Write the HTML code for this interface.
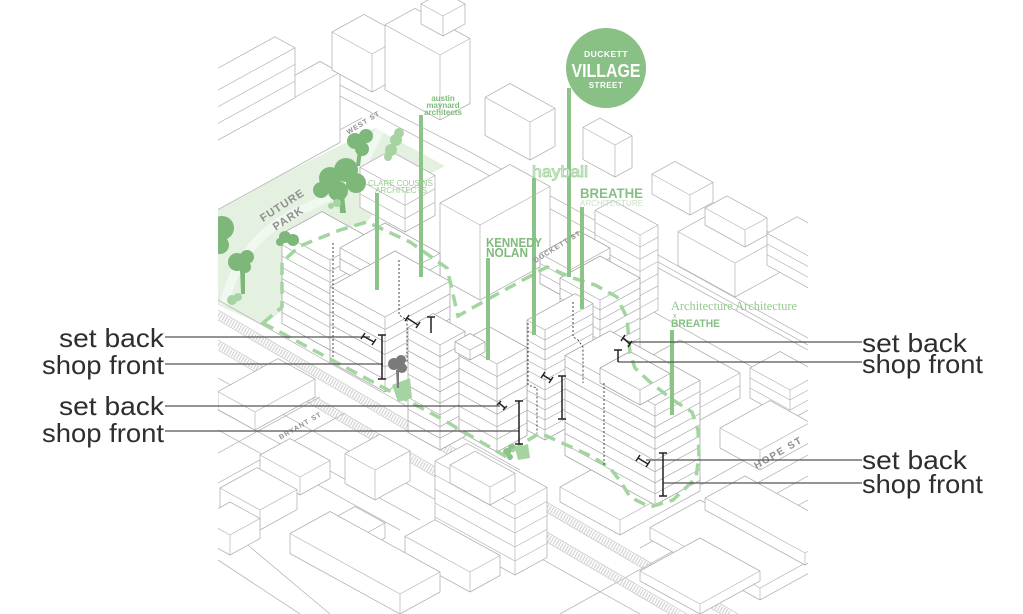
<!DOCTYPE html>
<html><head><meta charset="utf-8">
<style>
html,body{margin:0;padding:0;background:#fff;width:1023px;height:614px;overflow:hidden;}
svg{display:block;}
</style></head>
<body>
<svg id="s" width="1023" height="614" viewBox="0 0 1023 614" xmlns="http://www.w3.org/2000/svg">
<defs><clipPath id="cp"><rect x="218" y="0" width="590" height="614"/></clipPath></defs>
<rect width="1023" height="614" fill="#fff"/>
<g clip-path="url(#cp)">
  <path d="M218,207 L375,128 L445,166 L385,198 L367,222 L300,246 L283,262 L283,310 L263,325 L218,305 Z" fill="#e4f1e1"/>
  <path d="M224,305 C234,262 258,228 308,207 S362,165 380,130" fill="none" stroke="#f1f8ef" stroke-width="9"/>
  <g id="ground" fill="none" stroke="#b0b0b0" stroke-width="0.8"></g>
  <g fill="none">
    <path d="M218,315 L729,614" stroke="#d4d4d4" stroke-width="7" stroke-dasharray="1.2 1.6"/>
    <path d="M218,345 L678,614" stroke="#d4d4d4" stroke-width="7" stroke-dasharray="1.2 1.6"/>
    <path d="M218,310 L738,614 M218,320 L721,614 M218,340 L687,614 M218,350 L670,614" stroke="#c2c2c2" stroke-width="0.7"/>
  </g>
  <g id="bld"></g>
  <g fill="#7db77a">
    <circle cx="330" cy="178" r="11"/><circle cx="346" cy="170" r="12"/><circle cx="356" cy="183" r="10"/><circle cx="338" cy="191" r="10"/><circle cx="321" cy="190" r="8"/>
    <path d="M339,195 L344,195 L346,213 L340,213 Z"/>
    <circle cx="355" cy="141" r="8"/><circle cx="366" cy="136" r="7"/><circle cx="362" cy="149" r="7"/>
    <path d="M358,150 L362,150 L360,166 L356,166 Z"/>
    <circle cx="222" cy="228" r="12"/><circle cx="220" cy="245" r="9"/>
    <circle cx="237" cy="262" r="9"/><circle cx="247" cy="257" r="7"/><circle cx="245" cy="267" r="6"/>
    <path d="M240,268 L245,268 L245,294 L241,294 Z"/>
    <circle cx="285" cy="237" r="6"/><circle cx="293" cy="240" r="6"/><circle cx="280" cy="242" r="4"/>
  </g>
  <g fill="#a6d3a2">
    <circle cx="396" cy="140" r="6"/><circle cx="391" cy="150" r="6"/><circle cx="399" cy="133" r="5"/><circle cx="388" cy="157" r="4"/>
    <circle cx="232" cy="300" r="5"/><circle cx="238" cy="297" r="4"/>
    <circle cx="337" cy="203" r="4"/><circle cx="331" cy="206" r="3"/>
    <path d="M392,385 L410,378 L412,398 L398,402 Z"/>
    <path d="M515,448 L528,444 L530,458 L518,460 Z"/>
  </g>
  <g fill="#7a7a7a">
    <circle cx="394" cy="364" r="6"/><circle cx="401" cy="360" r="5"/><circle cx="402" cy="368" r="5"/>
    <path d="M396,370 L399,370 L399,388 L397,388 Z"/>
  </g>
  <g fill="#8bc388">
    <circle cx="507" cy="452" r="4"/><circle cx="512" cy="448" r="4"/><circle cx="510" cy="457" r="3"/>
  </g>
  <path d="M263,323 L282,307 L282,262 L300,246 L340,230 L367,222 L410,242 L447,268 L452,290 L458,316 L490,298 L523,280 L547,267 L573,278 L595,285 L617,297 L627,318 L630,353 L635,368 L650,382 L673,400 L692,412 L698,430 L699,455 L696,478 L673,500 L650,507 L630,497 L621,482 L610,468 L593,457 L560,442 L540,433 L525,442 L505,456 L440,418 Z" fill="none" stroke="#a3d59e" stroke-width="3.5" stroke-dasharray="12 7"/>
  <g fill="none" stroke="#333" stroke-width="0.9" stroke-dasharray="2 2">
    <path d="M333,243 L333,357"/>
    <path d="M399,260 L399,315 L407,320 L407,363"/>
    <path d="M528,323 L528,385 L537,388 L537,433"/>
    <path d="M573,302 L573,337 L578,340 L583,347 L583,383"/>
    <path d="M604,383 L604,465"/>
  </g>
  <g stroke="#8bc388" stroke-width="4" fill="none">
    <path d="M377,193 L377,290"/>
    <path d="M421,115 L421,277"/>
    <path d="M488,258 L488,360"/>
    <path d="M534,178 L534,335"/>
    <path d="M569,88 L569,277"/>
    <path d="M582,207 L582,309"/>
    <path d="M672,330 L672,415"/>
  </g>
  <circle cx="606" cy="68" r="40" fill="#89c086"/>
  <g font-family="'Liberation Sans',sans-serif" font-weight="bold" fill="#8f8f8f" text-anchor="middle">
    <text x="363" y="125" font-size="7" letter-spacing="1" transform="rotate(-32 363 122)">WEST ST</text>
    <text x="557" y="249" font-size="7" letter-spacing="1" transform="rotate(-32 557 246)">DUCKETT ST</text>
    <text x="778" y="456" font-size="10" letter-spacing="1.5" transform="rotate(-30 778 452)">HOPE ST</text>
    <text x="300" y="428" font-size="7" letter-spacing="1" transform="rotate(-30 300 425)">BRYANT ST</text>
    <text x="282" y="209" font-size="11" letter-spacing="1" transform="rotate(-33 282 205)">FUTURE</text>
    <text x="288" y="222" font-size="11" letter-spacing="1" transform="rotate(-33 288 218)">PARK</text>
  </g>
  <g font-family="'Liberation Sans',sans-serif">
    <text x="443" y="101" font-size="8" font-weight="bold" fill="#7fbb7c" text-anchor="middle">austin</text>
    <text x="443" y="108" font-size="8" font-weight="bold" fill="#7fbb7c" text-anchor="middle">maynard</text>
    <text x="443" y="115" font-size="8" font-weight="bold" fill="#7fbb7c" text-anchor="middle">architects</text>
    <text x="368" y="186" font-size="8" fill="#9acd96" textLength="65" lengthAdjust="spacingAndGlyphs">CLARE COUSINS</text>
    <text x="375" y="193" font-size="8" fill="#9acd96" textLength="52" lengthAdjust="spacingAndGlyphs">ARCHITECTS</text>
    <text x="532" y="177" font-size="16" fill="#eef7ec" stroke="#a8d5a4" stroke-width="0.9" textLength="56" lengthAdjust="spacingAndGlyphs">hayball</text>
    <text x="580" y="198" font-size="14" font-weight="bold" fill="#86bf83" textLength="63" lengthAdjust="spacingAndGlyphs">BREATHE</text>
    <text x="580" y="206" font-size="8" fill="#c6e3c3" textLength="63" lengthAdjust="spacingAndGlyphs">ARCHITECTURE</text>
    <text x="486" y="247" font-size="12.5" font-weight="bold" fill="#7fba7c" textLength="56" lengthAdjust="spacingAndGlyphs">KENNEDY</text>
    <text x="486" y="257" font-size="12.5" font-weight="bold" fill="#7fba7c" textLength="42" lengthAdjust="spacingAndGlyphs">NOLAN</text>
    <text x="671" y="310" font-size="13" font-family="'Liberation Serif',serif" fill="#96c892" textLength="126" lengthAdjust="spacingAndGlyphs">Architecture Architecture</text>
    <text x="673" y="318" font-size="7" fill="#86bf83">x</text>
    <text x="671" y="327" font-size="11" font-weight="bold" fill="#86bf83" textLength="49" lengthAdjust="spacingAndGlyphs">BREATHE</text>
    <text x="606" y="57" font-size="8.5" font-weight="bold" fill="#fff" text-anchor="middle" letter-spacing="0.5">DUCKETT</text>
    <text x="606" y="77" font-size="18" font-weight="bold" fill="#fff" text-anchor="middle" textLength="69" lengthAdjust="spacingAndGlyphs">VILLAGE</text>
    <text x="606" y="88" font-size="8" font-weight="bold" fill="#fff" text-anchor="middle" letter-spacing="0.5">STREET</text>
  </g>
</g>
<g stroke="#555" stroke-width="1.2" fill="none">
  <path d="M165,337 L370,337"/>
  <path d="M165,364 L383,364"/>
  <path d="M165,406 L500,406"/>
  <path d="M165,431 L519,431"/>
  <path d="M628,342 L862,342"/>
  <path d="M618,362 L862,362"/>
  <path d="M646,460 L862,460"/>
  <path d="M663,483 L862,483"/>
</g>
<g stroke="#222" stroke-width="1.5" fill="none">
  <path d="M363,336 L374,342 M361,339 L365,333 M372,345 L376,339"/>
  <path d="M382,335 L382,379 M378,335 L386,335 M378,379 L386,379"/>
  <path d="M407,318 L418,325 M405,321 L409,315 M416,328 L420,322"/>
  <path d="M431,317 L431,333 M427,317 L435,317"/>
  <path d="M499,403 L505,408 M497,405 L501,401 M503,410 L507,406"/>
  <path d="M519,401 L519,444 M515,401 L523,401 M515,444 L523,444"/>
  <path d="M543,375 L551,380 M541,378 L545,372 M549,383 L553,377"/>
  <path d="M562,376 L562,419 M558,376 L566,376 M558,419 L566,419"/>
  <path d="M623,338 L630,344 M621,341 L625,335 M628,347 L632,341"/>
  <path d="M618,350 L618,362 M614,350 L622,350"/>
  <path d="M638,458 L648,464 M636,461 L640,455 M646,467 L650,461"/>
  <path d="M663,453 L663,496 M659,453 L667,453 M659,496 L667,496"/>
</g>
<g font-family="'Liberation Sans',sans-serif" font-size="26" fill="#2e2e2e">
  <text x="59" y="347" textLength="105" lengthAdjust="spacingAndGlyphs">set back</text>
  <text x="42" y="374" textLength="122" lengthAdjust="spacingAndGlyphs">shop front</text>
  <text x="59" y="415" textLength="105" lengthAdjust="spacingAndGlyphs">set back</text>
  <text x="42" y="442" textLength="122" lengthAdjust="spacingAndGlyphs">shop front</text>
  <text x="862" y="352" textLength="105" lengthAdjust="spacingAndGlyphs">set back</text>
  <text x="862" y="373" textLength="121" lengthAdjust="spacingAndGlyphs">shop front</text>
  <text x="862" y="469" textLength="105" lengthAdjust="spacingAndGlyphs">set back</text>
  <text x="862" y="493" textLength="121" lengthAdjust="spacingAndGlyphs">shop front</text>
</g>
</svg>
<script>
(function(){
const K=0.55, NS="http://www.w3.org/2000/svg";
const g=document.getElementById('bld'), gr=document.getElementById('ground');
function P(p){return p[0].toFixed(1)+','+p[1].toFixed(1);}
function add(par,d,fill,stroke,sw){const e=document.createElementNS(NS,'path');e.setAttribute('d',d);e.setAttribute('fill',fill||'none');e.setAttribute('stroke',stroke||'#b0b0b0');e.setAttribute('stroke-width',sw||0.75);e.setAttribute('stroke-linejoin','round');par.appendChild(e);}
function box(x,y,a,b,h,fl,st){
  st=st||'#b0b0b0';
  const P0=[x,y],Lb=[x-a,y-K*a],Rb=[x+b,y-K*b],Pt=[x,y-h],Lt=[x-a,y-K*a-h],Rt=[x+b,y-K*b-h],Bt=[x-a+b,y-K*(a+b)-h];
  add(g,'M'+P(Lb)+'L'+P(P0)+'L'+P(Rb)+'L'+P(Rt)+'L'+P(Bt)+'L'+P(Lt)+'Z','#fff',st);
  let d='M'+P(P0)+'L'+P(Pt)+'M'+P(Lt)+'L'+P(Pt)+'L'+P(Rt);
  for(let i=1;i<fl;i++){const f=h*i/fl; d+='M'+P([x-a,y-K*a-f])+'L'+P([x,y-f])+'L'+P([x+b,y-K*b-f]);}
  add(g,d,'none',st,0.65);
}
function ln(pts,st,sw){add(gr,'M'+pts.map(P).join('L'),'none',st||'#b4b4b4',sw||0.75);}
ln([[218,195],[362,118]]);
ln([[330,80],[470,152],[640,245],[808,338]]);
ln([[340,96],[470,165],[640,258],[808,350]]);
ln([[218,300],[520,470]]);
ln([[218,378],[640,614]]);
ln([[218,453],[320,397]]);ln([[218,483],[345,413]]);
ln([[615,533],[808,425]]);ln([[640,548],[808,455]]);
ln([[600,282],[808,398]]);ln([[640,252],[808,345]]);
ln([[700,560],[808,500]]);ln([[560,614],[808,476]]);
ln([[218,520],[330,614]]);ln([[218,560],[300,614]]);
ln([[218,410],[420,520]]);ln([[218,430],[400,530]]);
box(190,225,20,150,70,0);
box(200,150,20,95,50,3);
box(372,92,40,32,38,0);
box(440,120,55,30,65,0);
box(443,36,22,22,20,0);
box(530,160,45,25,38,0);
box(615,177,32,17,32,0);
box(735,297,57,45,34,0);
box(690,215,38,23,20,0);
box(745,247,40,22,17,0);
box(812,290,45,30,32,3);
box(405,232,45,30,40,3);
box(480,300,40,70,75,0);
box(640,320,45,18,85,7);
box(700,420,60,40,25,2);
box(790,420,40,30,30,3);
box(760,470,40,50,20,0);
var S='#a2a2a2';
box(330,350,48,40,90,8,S);
box(395,300,55,45,22,2,S);
box(385,392,55,65,75,6,S);
box(570,300,30,40,30,3,S);
box(600,380,40,40,80,8,S);
box(545,440,18,48,110,11,S);
box(440,450,32,25,105,9,S);
box(497,452,38,30,88,7,S);
box(470,360,15,15,10,0,S);
box(620,535,60,80,15,0);
box(655,505,90,45,100,9,S);
box(640,405,40,30,15,0,S);
box(255,430,37,60,18,0);
box(300,495,40,30,18,0);
box(375,500,30,35,30,0);
box(260,530,40,37,20,0);
box(230,555,30,30,20,0);
box(345,560,30,40,15,0);
box(515,575,80,32,70,5);
box(490,505,40,25,18,0);
box(470,592,65,30,20,0);
box(400,614,110,40,20,0);
box(760,600,110,50,12,0);
box(805,565,100,40,12,0);
box(700,614,60,60,10,0);
})();
</script>
</body></html>
